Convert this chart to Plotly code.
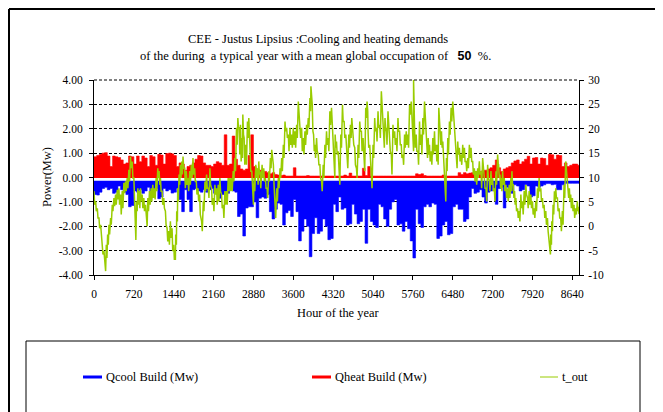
import plotly.graph_objects as go

# ---------------- data ----------------
BIN_HOURS = 48
# Qheat Build (MW): peak of each 48-hour block
q_heat = [
    0.85, 0.9, 0.95, 1.0, 1.02, 0.88, 0.45, 0.88, 0.85, 0.82,
    0.72, 0.55, 0.6, 0.88, 0.85, 0.55, 0.88, 0.65, 0.88, 0.8,
    0.45, 0.9, 0.85, 0.5, 0.95, 0.92, 0.55, 0.98, 1.0, 0.97,
    0.9, 0.45, 0.6, 0.55, 0.3, 0.45, 0.5, 0.6, 0.75, 0.9,
    0.88, 0.6, 0.5, 0.5, 0.45, 0.55, 0.65, 0.6, 0.5, 1.75,
    0.5, 0.55, 1.7, 0.75, 0.5, 0.35, 0.3, 0.35, 0.9, 1.75,
    0.45, 0.35, 0.3, 0.2, 0.25, 0.2, 0.15, 0.2, 0.12, 0.1,
    0.08, 0.1, 0.06, 0.06, 0.06, 0.4, 0.06, 0.06, 0.06, 0.06,
    0.08, 0.06, 0.06, 0.06, 0.06, 0.06, 0.06, 0.06, 0.06, 0.06,
    0.06, 0.06, 0.06, 0.06, 0.1, 0.06, 0.18, 0.06, 0.06, 0.06,
    0.06, 0.38, 0.08, 0.45, 0.06, 0.06, 0.06, 0.06, 0.06, 0.06,
    0.06, 0.06, 0.06, 0.06, 0.06, 0.06, 0.06, 0.06, 0.06, 0.06,
    0.06, 0.15, 0.12, 0.15, 0.08, 0.06, 0.06, 0.06, 0.06, 0.06,
    0.06, 0.1, 0.06, 0.06, 0.06, 0.06, 0.06, 0.2, 0.12, 0.2,
    0.15, 0.18, 0.2, 0.25, 0.2, 0.25, 0.3, 0.3, 0.35, 0.4,
    0.5, 0.72, 0.4, 0.25, 0.35, 0.4, 0.45, 0.6, 0.68, 0.72,
    0.55, 0.65, 0.75, 0.87, 0.55, 0.8, 0.82, 0.55, 0.8, 0.78,
    0.5, 0.95, 0.93, 0.75, 0.92, 0.9, 0.45, 0.6, 0.45, 0.5,
    0.55, 0.55, 0.5,
]
q_heat_floor = -0.02

# Qcool Build (MW): peak (most negative) of each 48-hour block
q_cool = [
    -0.7, -0.72, -0.6, -0.45, -0.4, -0.5, -0.45, -0.65, -0.6, -0.35,
    -0.5, -0.6, -0.7, -1.2, -1.15, -0.55, -0.6, -0.5, -0.65, -0.55,
    -0.4, -0.6, -0.65, -0.45, -0.87, -0.8, -0.45, -0.55, -0.5, -0.64,
    -0.6, -0.45, -0.9, -1.4, -0.5, -0.9, -1.4, -0.5, -0.45, -0.55,
    -0.6, -0.5, -0.6, -0.5, -0.45, -0.65, -0.5, -0.85, -0.7, -0.6,
    -0.65, -0.5, -0.55, -0.6, -1.6, -1.5, -2.4, -1.25, -1.2, -1.2,
    -1.0, -1.65, -0.85, -0.8, -0.85, -0.7, -1.4, -1.7, -1.3, -1.05,
    -1.1, -1.95, -1.45, -1.35, -1.6, -0.9, -1.4, -2.6, -2.2, -1.7,
    -2.0, -3.25, -2.3, -1.65, -2.3, -2.2, -1.7, -2.0, -2.55, -2.5,
    -1.1, -1.4, -0.8, -1.3, -1.25, -1.95, -1.9, -1.1, -1.5, -1.9,
    -1.8, -1.3, -2.7, -1.3, -1.8, -1.95, -2.05, -1.1, -1.2, -1.7,
    -2.0, -1.3, -1.0, -0.9, -1.95, -1.9, -2.2, -1.8, -2.1, -2.6,
    -3.3, -1.3, -1.9, -2.05, -1.2, -1.1, -1.2, -1.05, -1.1, -2.5,
    -2.4, -1.95, -1.8, -2.35, -2.3, -1.2, -1.1, -1.3, -1.3, -1.8,
    -1.7, -0.8, -0.45, -0.65, -0.6, -0.5, -0.8, -1.05, -0.6, -0.55,
    -0.45, -1.1, -0.45, -0.4, -1.25, -0.4, -0.45, -0.65, -0.3, -0.35,
    -0.55, -0.5, -0.3, -0.35, -0.8, -0.75, -0.35, -0.4, -0.35, -0.3,
    -0.25, -0.25, -0.3, -0.28, -0.5, -0.5, -0.3, -0.24, -0.24, -0.24,
    -0.24, -0.24, -0.24,
]
q_cool_floor = -0.13

# t_out (deg C): hour of reading, upper and lower value of the daily swing
t_hours = [
    0, 30, 60, 90, 120, 150, 180, 198, 222, 246,
    270, 300, 330, 360, 390, 420, 450, 480, 510, 540,
    570, 600, 630, 660, 690, 720, 744, 768, 792, 816,
    840, 870, 900, 930, 948, 972, 1002, 1032, 1062, 1092,
    1122, 1152, 1176, 1200, 1230, 1260, 1290, 1320, 1350, 1380,
    1410, 1440, 1458, 1476, 1494, 1512, 1536, 1560, 1584, 1608,
    1638, 1668, 1698, 1728, 1758, 1788, 1818, 1848, 1878, 1908,
    1944, 1974, 2004, 2034, 2064, 2094, 2124, 2154, 2184, 2214,
    2244, 2274, 2304, 2334, 2364, 2394, 2424, 2454, 2484, 2514,
    2544, 2574, 2598, 2622, 2646, 2670, 2688, 2712, 2742, 2772,
    2796, 2820, 2850, 2868, 2892, 2922, 2952, 2976, 3000, 3036,
    3066, 3096, 3126, 3156, 3186, 3210, 3240, 3270, 3300, 3330,
    3360, 3390, 3420, 3450, 3480, 3510, 3540, 3570, 3600, 3630,
    3660, 3690, 3720, 3750, 3780, 3810, 3840, 3870, 3900, 3918,
    3942, 3966, 3990, 4020, 4050, 4080, 4110, 4140, 4170, 4200,
    4230, 4260, 4290, 4320, 4338, 4356, 4380, 4410, 4428, 4458,
    4488, 4518, 4548, 4572, 4602, 4632, 4656, 4680, 4710, 4740,
    4770, 4800, 4830, 4860, 4878, 4908, 4932, 4950, 4980, 5010,
    5040, 5070, 5100, 5130, 5160, 5190, 5208, 5232, 5256, 5280,
    5310, 5340, 5370, 5400, 5430, 5460, 5490, 5520, 5550, 5580,
    5610, 5640, 5670, 5700, 5730, 5760, 5772, 5790, 5820, 5850,
    5880, 5910, 5940, 5970, 5988, 6012, 6036, 6060, 6090, 6120,
    6150, 6180, 6204, 6228, 6252, 6276, 6300, 6318, 6342, 6366,
    6390, 6420, 6450, 6480, 6498, 6522, 6546, 6570, 6600, 6630,
    6660, 6690, 6720, 6750, 6780, 6810, 6840, 6870, 6900, 6930,
    6960, 6990, 7020, 7050, 7080, 7110, 7140, 7170, 7200, 7230,
    7260, 7290, 7308, 7332, 7356, 7380, 7410, 7440, 7470, 7500,
    7530, 7548, 7572, 7596, 7620, 7650, 7680, 7710, 7740, 7770,
    7800, 7830, 7860, 7890, 7920, 7950, 7980, 8010, 8040, 8070,
    8100, 8130, 8160, 8190, 8208, 8232, 8250, 8268, 8292, 8316,
    8340, 8370, 8400, 8430, 8460, 8490, 8520, 8538, 8562, 8586,
    8610, 8640, 8670, 8700, 8730, 8748,
]
t_high = [
    7.2, 5.1, 3.7, 1.7, 0.3, -3.8, -5.1, -6.9, -3.8, -1.7,
    0.3, 1.7, 4.4, 5.8, 6.5, 7.5, 7.8, 6.5, 7.2, 8.9,
    9.2, 9.9, 11.6, 14.3, 13.3, 9.9, 1.0, 5.1, 7.8, 7.2,
    7.8, 6.5, 5.8, 4.4, 1.7, 5.8, 7.2, 7.8, 8.5, 7.8,
    9.9, 11.9, 11.3, 9.9, 7.2, 5.8, 3.1, -0.4, -1.0, 1.0,
    -0.4, -3.8, -5.1, -1.7, 3.1, 7.8, 10.6, 12.6, 13.3, 14.3,
    11.9, 11.3, 9.9, 11.3, 12.6, 14.0, 11.9, 9.2, 7.8, 6.5,
    1.0, 5.1, 9.2, 10.6, 7.8, 11.9, 7.8, 5.8, 8.5, 7.8,
    8.5, 9.9, 6.5, 4.4, 7.2, 7.2, 9.9, 9.9, 9.9, 11.3,
    14.0, 20.2, 22.2, 20.2, 20.8, 18.1, 22.9, 18.1, 16.7, 21.5,
    22.2, 14.0, 11.3, 7.8, 9.9, 12.6, 11.9, 13.3, 11.3, 12.6,
    11.9, 9.9, 7.8, 11.3, 14.0, 15.7, 12.6, 4.4, 7.8, 9.9,
    11.9, 14.0, 16.7, 21.5, 20.2, 18.8, 20.2, 18.8, 20.2, 19.5,
    20.8, 25.6, 22.2, 20.2, 18.1, 19.5, 20.8, 22.2, 26.3, 28.7,
    24.9, 18.8, 16.7, 18.1, 14.7, 12.6, 9.2, 12.6, 16.7, 19.5,
    18.1, 23.6, 24.3, 17.4, 12.6, 18.8, 17.4, 15.4, 10.2, 18.8,
    24.9, 21.5, 18.8, 14.7, 18.8, 20.8, 22.2, 19.5, 16.1, 11.9,
    16.7, 21.5, 19.5, 18.1, 14.0, 24.3, 25.6, 19.5, 16.7, 10.6,
    16.7, 22.2, 20.2, 23.6, 20.8, 27.7, 23.6, 18.8, 22.2, 20.2,
    23.6, 18.1, 14.7, 20.8, 19.5, 18.1, 22.2, 19.5, 16.7, 14.7,
    18.8, 19.5, 18.8, 24.9, 25.6, 17.4, 30.1, 20.2, 18.8, 15.4,
    21.5, 18.8, 22.2, 25.6, 21.5, 16.7, 18.1, 16.7, 15.4, 18.1,
    19.5, 16.7, 16.7, 24.3, 20.2, 19.5, 17.4, 12.6, 7.2, 14.0,
    18.1, 21.5, 24.3, 25.6, 22.2, 17.4, 14.7, 17.4, 16.1, 14.7,
    16.7, 16.1, 13.3, 14.0, 16.7, 16.1, 13.3, 11.9, 11.3, 11.9,
    13.3, 11.3, 14.0, 9.9, 7.8, 12.6, 9.2, 11.3, 9.9, 7.8,
    11.3, 14.7, 12.6, 10.6, 9.9, 11.3, 9.9, 8.5, 7.8, 8.5,
    9.9, 11.3, 8.5, 7.2, 5.8, 3.7, 3.1, 6.5, 5.1, 7.2,
    8.5, 5.8, 7.2, 6.5, 5.1, 3.7, 5.1, 7.8, 9.9, 7.8,
    5.8, 4.4, 3.1, 1.7, -1.7, -3.8, -1.7, 1.0, 4.4, 7.2,
    7.8, 5.8, 3.7, 1.7, 3.1, 8.5, 13.3, 11.9, 8.5, 7.8,
    6.5, 5.8, 4.4, 3.7, 5.1, 4.0,
]
t_low = [
    4.4, 3.1, 1.7, -0.4, -1.7, -5.8, -7.9, -9.2, -6.5, -3.8,
    -1.7, 0.3, 3.1, 4.1, 4.4, 5.5, 4.4, 2.4, 3.7, 6.8,
    7.2, 7.8, 9.2, 11.9, 9.9, 5.8, -2.8, 3.1, 4.4, 3.7,
    5.1, 3.7, 3.1, 2.4, 0.0, 3.1, 4.4, 5.1, 5.8, 5.5,
    7.2, 9.9, 8.5, 7.2, 4.4, 3.7, 0.3, -3.1, -3.8, -2.4,
    -5.1, -6.9, -6.9, -3.8, 1.0, 5.1, 8.5, 9.9, 10.6, 11.9,
    7.8, 8.5, 7.2, 8.5, 9.9, 10.6, 9.2, 6.5, 5.1, 2.4,
    -1.0, 3.1, 7.2, 7.8, 5.8, 8.5, 4.4, 3.1, 6.5, 4.4,
    5.1, 7.2, 3.7, 1.7, 4.4, 4.4, 7.2, 7.2, 7.2, 9.2,
    11.3, 16.7, 20.2, 14.7, 13.3, 14.0, 18.8, 12.6, 12.6, 18.1,
    18.8, 11.3, 7.8, 4.4, 7.2, 9.9, 8.5, 10.6, 7.8, 9.9,
    9.2, 7.8, 5.8, 9.2, 11.9, 14.0, 8.5, 1.7, 5.1, 7.8,
    9.9, 11.3, 14.0, 19.5, 18.1, 15.4, 16.7, 16.1, 16.7, 16.1,
    18.1, 23.6, 18.1, 15.4, 14.7, 16.7, 18.8, 20.2, 23.6, 26.3,
    19.5, 15.4, 14.0, 15.4, 12.6, 9.9, 7.2, 9.9, 14.0, 16.7,
    15.4, 20.8, 21.5, 14.7, 9.9, 16.1, 14.7, 12.6, 8.5, 16.1,
    21.5, 18.1, 16.1, 11.9, 16.1, 18.1, 20.2, 16.7, 12.6, 9.9,
    14.0, 19.5, 15.4, 14.7, 11.3, 22.2, 23.6, 16.1, 14.0, 7.8,
    14.0, 19.5, 17.4, 20.2, 18.1, 24.9, 20.2, 16.1, 19.5, 16.7,
    20.8, 15.4, 10.6, 18.1, 16.7, 15.4, 19.5, 16.7, 14.0, 12.6,
    16.1, 16.7, 16.1, 22.9, 22.9, 15.4, 26.3, 16.1, 15.4, 12.6,
    16.7, 14.7, 18.8, 22.9, 16.7, 14.0, 14.7, 13.3, 12.6, 14.7,
    15.4, 13.3, 12.6, 21.5, 16.7, 16.1, 14.0, 9.9, 5.1, 11.3,
    14.7, 18.8, 21.5, 23.6, 18.8, 14.7, 11.9, 14.7, 13.3, 12.6,
    14.0, 13.3, 11.3, 11.9, 14.0, 13.3, 10.6, 9.2, 8.5, 9.9,
    10.6, 7.8, 11.3, 7.8, 5.1, 9.9, 7.2, 8.5, 7.2, 5.1,
    8.5, 12.6, 9.9, 7.8, 7.2, 8.5, 7.2, 5.8, 5.1, 5.8,
    7.2, 8.5, 5.8, 4.4, 3.1, 1.7, 1.0, 3.7, 2.4, 4.4,
    6.5, 3.7, 4.4, 3.7, 2.4, 1.7, 3.1, 5.8, 7.2, 5.1,
    3.7, 1.7, 0.3, -1.0, -3.8, -5.8, -3.8, -1.0, 2.4, 5.1,
    5.8, 3.1, 1.7, -1.0, 0.3, 5.8, 11.3, 9.9, 5.8, 5.1,
    3.7, 3.1, 1.7, 2.4, 3.1, 2.5,
]

x_ticks = [0, 720, 1440, 2160, 2880, 3600, 4320, 5040, 5760, 6480, 7200, 7920, 8640]
y_ticks = [-4, -3, -2, -1, 0, 1, 2, 3, 4]
y_tick_text = ["-4.00", "-3.00", "-2.00", "-1.00", "0.00", "1.00", "2.00", "3.00", "4.00"]
y2_ticks = [-10, -5, 0, 5, 10, 15, 20, 25, 30]
y2_tick_text = ["-10", "-5", "0", "5", "10", "15", "20", "25", "30"]

title_1 = "CEE - Justus Lipsius :Cooling and heating demands"
title_2 = ("of the during \u00a0a typical year with a mean global occupation of \u00a0 "
           "<span style='font-family:Liberation Sans, Arial;font-weight:bold'>50</span> \u00a0%.")
legend_names = ["Qcool Build (Mw)", "Qheat Build (Mw)", "t_out"]
colors = ["#0000FF", "#FF0000", "#99CC00"]

# ---------------- figure ----------------
# the page body adds an 8px offset; positions below are screen pixels
OFF = 8
W, H = 663, 412
L, R, T, B = 94 - OFF, 663 - (579 - OFF), 80 - OFF, 412 - (275 - OFF)
PW, PH = W - L - R, H - T - B


def px(x):
    return (x - OFF - L) / PW


def py(y):
    return (H - B - (y - OFF)) / PH


edges = [BIN_HOURS * i for i in range(len(q_heat) + 1)]
heat_steps = q_heat + [q_heat[-1]]
cool_steps = q_cool + [q_cool[-1]]

fig = go.Figure()
# heating: filled step area between its floor and the block peaks
fig.add_trace(go.Scatter(x=edges, y=[q_heat_floor] * len(edges), mode="lines",
                         line=dict(width=0, color=colors[1]), hoverinfo="skip"))
fig.add_trace(go.Scatter(x=edges, y=heat_steps, mode="lines", line_shape="hv",
                         line=dict(width=0.6, color=colors[1]), fill="tonexty",
                         fillcolor=colors[1], name=legend_names[1]))
# cooling
fig.add_trace(go.Scatter(x=edges, y=[q_cool_floor] * len(edges), mode="lines",
                         line=dict(width=0, color=colors[0]), hoverinfo="skip"))
fig.add_trace(go.Scatter(x=edges, y=cool_steps, mode="lines", line_shape="hv",
                         line=dict(width=0.6, color=colors[0]), fill="tonexty",
                         fillcolor=colors[0], name=legend_names[0]))

tx, ty = [], []
for h, hi, lo in zip(t_hours, t_high, t_low):
    tx += [h, h + 12]
    ty += [hi, lo]
fig.add_trace(go.Scatter(x=tx, y=ty, mode="lines", name=legend_names[2],
                         line=dict(color=colors[2], width=1.5), yaxis="y2"))

serif = "Liberation Serif, Times New Roman, serif"
tick_font = dict(family=serif, size=11.5, color="black")

fig.update_layout(
    width=W, height=H, margin=dict(l=L, r=R, t=T, b=B, autoexpand=False),
    paper_bgcolor="white", plot_bgcolor="white",
    showlegend=False,
    font=dict(family=serif, size=11.5, color="black"),
    xaxis=dict(range=[0, 8760], tickvals=x_ticks, ticks="outside", ticklen=4,
               tickcolor="black", showline=True, linecolor="black", linewidth=1,
               showgrid=False, zeroline=False, tickfont=tick_font,
               ticklabelstandoff=4),
    yaxis=dict(range=[-4, 4], tickvals=y_ticks, ticktext=y_tick_text,
               ticks="outside", ticklen=4, tickcolor="black",
               showline=True, linecolor="black", linewidth=1,
               showgrid=True, gridcolor="black", gridwidth=1, griddash="3px,2px",
               zeroline=False, tickfont=tick_font, ticklabelstandoff=4),
    yaxis2=dict(range=[-10, 30], tickvals=y2_ticks, ticktext=y2_tick_text,
                overlaying="y", side="right", ticks="outside", ticklen=4,
                tickcolor="black", showline=True, linecolor="black", linewidth=1,
                showgrid=False, zeroline=False, tickfont=tick_font,
                ticklabelstandoff=2),
)

title_font = dict(family=serif, size=12.5, color="black")
ann = [
    dict(text=title_1, x=px(318), y=py(39), font=title_font),
    dict(text=title_2, x=px(315), y=py(56), font=title_font),
    dict(text="Hour of the year", x=px(338), y=py(313)),
    dict(text="Power(Mw)", x=px(47), y=py(177), textangle=-90),
    dict(text=legend_names[0], x=px(104), y=py(377), xanchor="left"),
    dict(text=legend_names[1], x=px(333), y=py(377), xanchor="left"),
    dict(text=legend_names[2], x=px(560), y=py(377), xanchor="left"),
]
for a in ann:
    base = dict(xref="paper", yref="paper", showarrow=False,
                xanchor="center", yanchor="middle",
                font=dict(family=serif, size=12.4, color="black"))
    base.update(a)
    fig.add_annotation(**base)

frame = dict(color="black", width=2)
shapes = [
    # dashed gridline along the top edge (4.00)
    dict(type="line", x0=0, x1=1, y0=1, y1=1,
         line=dict(color="black", width=1, dash="3px,2px")),
    # outer frame (left, top, right)
    dict(type="line", x0=px(9), x1=px(9), y0=py(9), y1=py(430), line=frame),
    dict(type="line", x0=px(9), x1=px(658), y0=py(9), y1=py(9), line=frame),
    dict(type="line", x0=px(658), x1=px(658), y0=py(9), y1=py(430), line=frame),
    # legend frame
    dict(type="rect", x0=px(26), x1=px(640), y0=py(341), y1=py(430),
         line=dict(color="black", width=1)),
    # legend samples
    dict(type="line", x0=px(83), x1=px(102), y0=py(377), y1=py(377),
         line=dict(color=colors[0], width=3)),
    dict(type="line", x0=px(312), x1=px(331), y0=py(377), y1=py(377),
         line=dict(color=colors[1], width=3)),
    dict(type="line", x0=px(540), x1=px(558), y0=py(377), y1=py(377),
         line=dict(color=colors[2], width=1)),
]
for s in shapes:
    fig.add_shape(xref="paper", yref="paper", **s)

fig.write_html("out.html")
